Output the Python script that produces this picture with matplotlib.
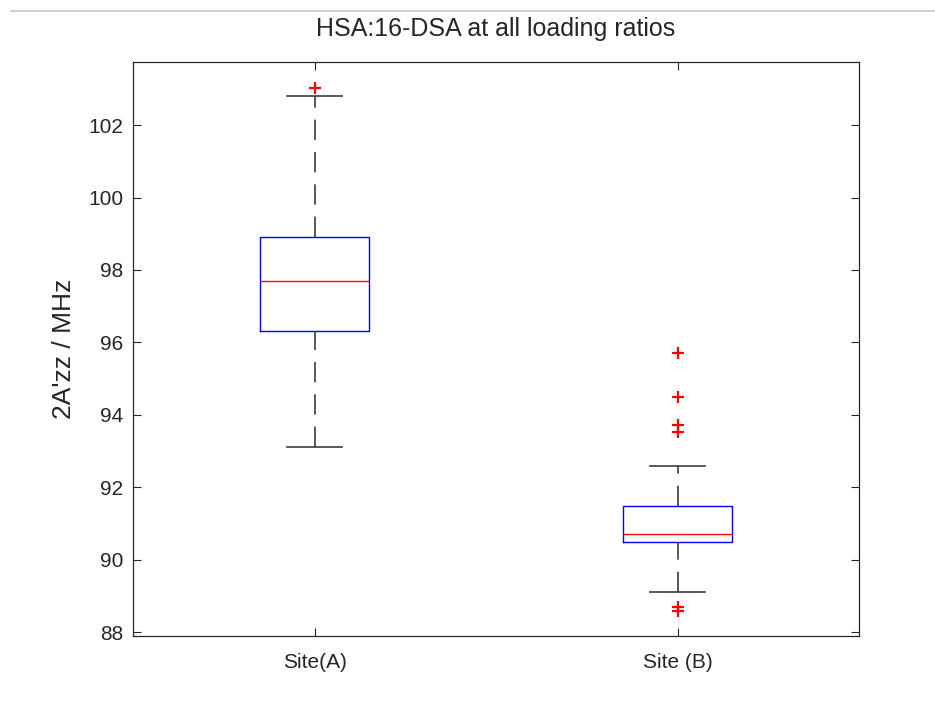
import matplotlib
matplotlib.use("Agg")
import matplotlib.pyplot as plt
from matplotlib.lines import Line2D

# ---- data ----
categories = ["Site(A)", "Site (B)"]
q1 = [96.31, 90.50]
median = [97.71, 90.70]
q3 = [98.91, 91.49]
whisker_low = [93.11, 89.10]
whisker_high = [102.80, 92.58]
outliers_a = [103.01]
outliers_b = [95.71, 94.49, 93.73, 93.52, 88.71, 88.60]
y_ticks = [88, 90, 92, 94, 96, 98, 100, 102]

plt.rcParams['font.family'] = ['Liberation Sans', 'DejaVu Sans']
TXT = '#262626'

fig = plt.figure(figsize=(9.35, 7.06), dpi=100)
ax = fig.add_axes([133/935, 1-636/706, (859-133)/935, (636-62)/706])

stats = []
for i, name in enumerate(categories):
    stats.append(dict(label=name, q1=q1[i], med=median[i], q3=q3[i],
                      whislo=whisker_low[i], whishi=whisker_high[i],
                      fliers=[outliers_a, outliers_b][i]))

res = ax.bxp(stats, positions=[1, 2], widths=0.3,
             boxprops=dict(color='#0000ff', linewidth=1.0),
             medianprops=dict(color='#ff0000', linewidth=1.0),
             whiskerprops=dict(color='#3c3c3c', linewidth=1.2,
                               linestyle=(0, (12.2, 7.2))),
             capprops=dict(color='#3c3c3c', linewidth=1.2),
             flierprops=dict(marker='+', markeredgecolor='#ff0000',
                             markersize=9, markeredgewidth=1.6,
                             linestyle='none'))
# lower whiskers: dash pattern starts from the whisker end
for k, ln in enumerate(res['whiskers']):
    if k % 2 == 0:
        xd, yd = ln.get_data()
        ln.set_data(list(xd)[::-1], list(yd)[::-1])

ax.set_xlim(0.5, 2.5)
ax.set_ylim(87.898, 103.741)
ax.set_yticks(y_ticks)
ax.set_yticklabels([str(t) for t in y_ticks])
ax.set_xticks([1, 2])
ax.set_xticklabels(categories)

ax.tick_params(direction='in', length=6, width=0.8, colors=TXT,
               top=True, right=True, labelsize=15)
ax.tick_params(axis='y', pad=7)
ax.tick_params(axis='x', pad=12)
for s in ax.spines.values():
    s.set_color(TXT)
    s.set_linewidth(0.9)

ax.set_title("HSA:16-DSA at all loading ratios", fontsize=18, color=TXT, pad=19)
ax.set_ylabel("2A'zz / MHz", fontsize=19, color=TXT, labelpad=9)

fig.add_artist(Line2D([11/935, 1.0], [1-10.5/706, 1-10.5/706],
                      color='#c8c8c8', linewidth=1.2, transform=fig.transFigure))

fig.savefig("out.png", dpi=100, facecolor='white')
